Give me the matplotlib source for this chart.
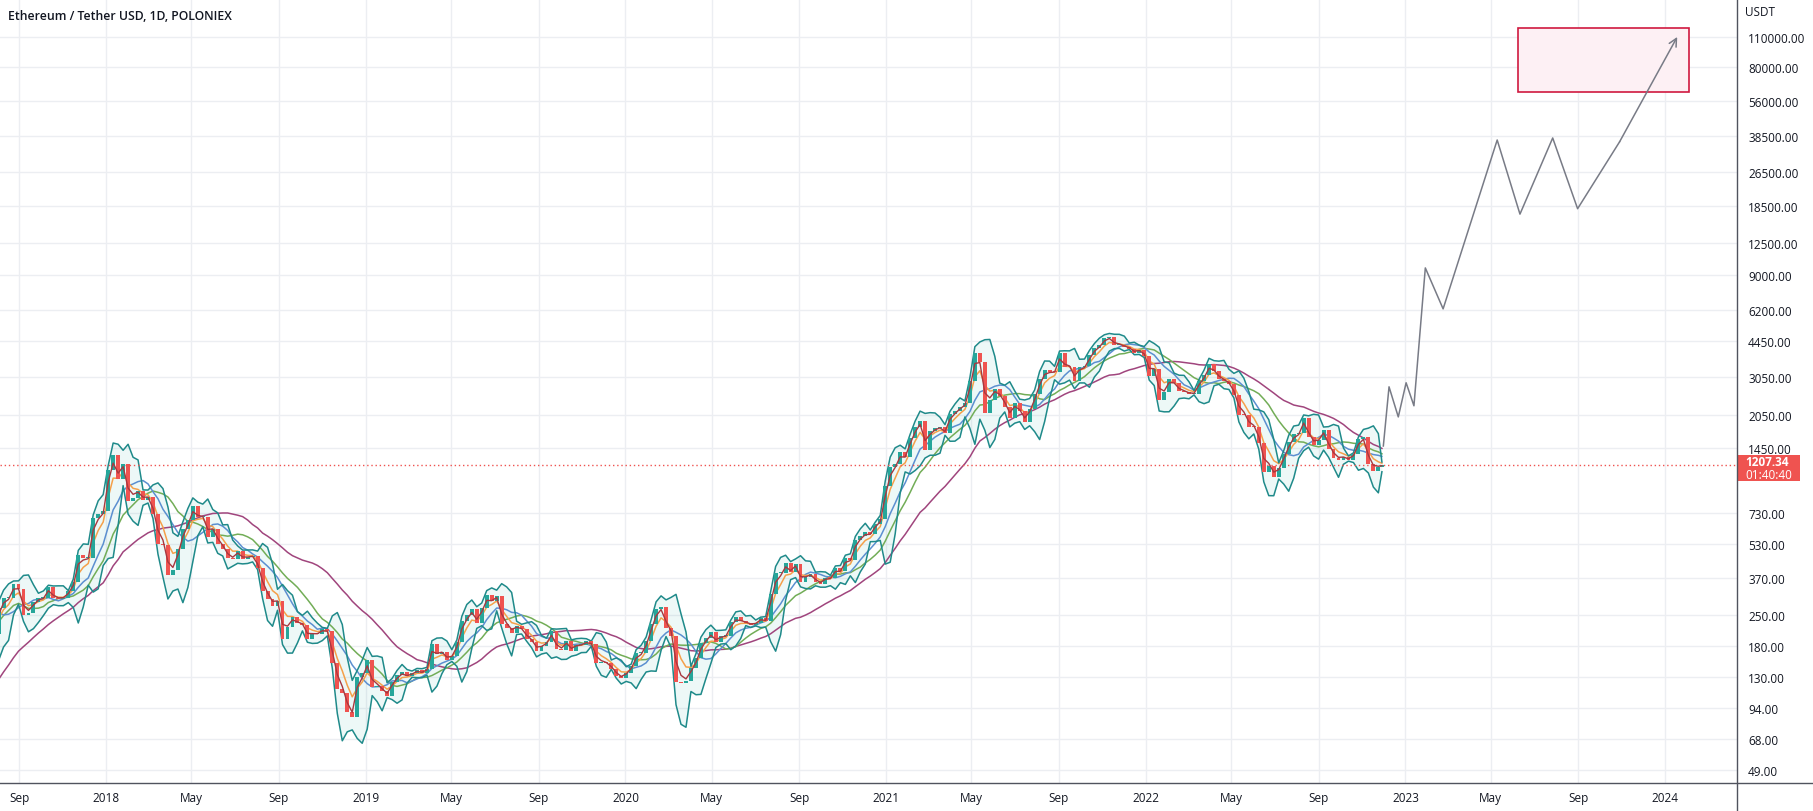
"""
Ethereum / Tether USD daily chart with moving averages, bands and a projected path.
"""

import matplotlib
matplotlib.use("Agg")
import matplotlib.pyplot as plt
import matplotlib.dates as mdates
from matplotlib.patches import Rectangle
import numpy as np
import pandas as pd

#### Data
# weekly closes (USDT); each list starts on the Monday in week_starts
week_starts = ["2017-01-02", "2018-01-01", "2018-12-31", "2019-12-30", "2020-12-28", "2022-01-03"]
close_2017 = [10.0, 9.9, 10.6, 10.6, 11.2, 11.4, 12.8, 13.2, 19.3, 19.4, 33, 42, 50.5,
              44, 48, 48.5, 78, 88, 89, 123, 162, 250, 340, 355, 285, 290, 240, 180, 230,
              205, 270, 300, 300, 345, 330, 250, 255, 285, 300, 300, 335, 300, 295, 300,
              320, 355, 470, 455, 455, 690, 720, 750]
close_2018 = [1150, 1350, 1050, 1230, 830, 860, 920, 840, 865, 720, 530, 520, 380, 400,
              500, 620, 680, 790, 700, 700, 570, 620, 530, 500, 455, 450, 490, 450, 460,
              465, 410, 320, 295, 275, 290, 195, 220, 245, 230, 225, 195, 205, 205, 215,
              210, 150, 115, 110, 90, 85, 130, 135]
close_2019 = [155, 117, 118, 112, 107, 124, 133, 137, 131, 135, 140, 136, 142, 185, 165,
              170, 156, 162, 187, 234, 250, 265, 230, 268, 308, 290, 305, 228, 218, 207,
              222, 215, 195, 188, 171, 180, 188, 210, 174, 173, 190, 171, 183, 183, 189,
              184, 150, 151, 150, 142, 132, 128]
close_2020 = [136, 146, 167, 168, 189, 228, 265, 273, 218, 200, 124, 122, 125, 143, 158,
              186, 197, 208, 188, 200, 201, 231, 245, 235, 230, 225, 229, 242, 235, 310,
              387, 390, 433, 391, 428, 352, 373, 384, 355, 346, 370, 368, 409, 396, 454,
              447, 548, 575, 596, 585, 654, 685]
close_2021 = [975, 1190, 1230, 1390, 1315, 1615, 1810, 1935, 1420, 1725, 1795, 1810, 1690,
              2080, 2140, 2240, 2320, 2945, 3930, 3580, 2100, 2390, 2710, 2510, 2240, 1980,
              2320, 2130, 1900, 2190, 2560, 3010, 3310, 3240, 3230, 3940, 3410, 3400, 2930,
              3390, 3420, 3850, 4170, 4290, 4610, 4650, 4300, 4300, 4200, 4130, 3930, 4060,
              3830]
close_2022 = [3080, 3330, 2410, 2600, 3010, 2870, 2630, 2620, 2560, 2570, 2940, 3130, 3520,
              3260, 2990, 2930, 2830, 2520, 2060, 2050, 1810, 1800, 1530, 1130, 1200, 1070,
              1170, 1360, 1550, 1680, 1700, 1990, 1620, 1490, 1580, 1760, 1430, 1310, 1280,
              1320, 1280, 1360, 1590, 1630, 1220, 1140, 1190, 1207.34]
last_price = 1207.34

# hand-drawn projection (date, price) and target box
path_dates = ["2022-12-01", "2022-12-09", "2022-12-22", "2023-01-02", "2023-01-13",
              "2023-01-29", "2023-02-23", "2023-05-10", "2023-06-11", "2023-07-27",
              "2023-08-31", "2023-10-29", "2024-01-18"]
path_prices = [1480, 2760, 2010, 2880, 2260, 9650, 6270, 37100, 17000, 37900, 18000,
               36400, 109800]
box_dates = ["2023-06-08", "2024-02-03"]
box_prices = [61600, 120700]

price_ticks = [49, 68, 94, 130, 180, 250, 370, 530, 730, 1450, 2050, 3050, 4450, 6200,
               9000, 12500, 18500, 26500, 38500, 56000, 80000, 110000]
date_ticks = ["2017-09-01", "2018-01-01", "2018-05-01", "2018-09-01", "2019-01-01",
              "2019-05-01", "2019-09-01", "2020-01-01", "2020-05-01", "2020-09-01",
              "2021-01-01", "2021-05-01", "2021-09-01", "2022-01-01", "2022-05-01",
              "2022-09-01", "2023-01-01", "2023-05-01", "2023-09-01", "2024-01-01"]

TEXT = "#131722"
W, H = 1813, 812
PLOT_R, PLOT_B = 1737, 784


def build_close():
    parts = []
    for start, vals in zip(week_starts, [close_2017, close_2018, close_2019,
                                         close_2020, close_2021, close_2022]):
        idx = pd.date_range(start, periods=len(vals), freq="7D")
        parts.append(pd.Series(vals, index=idx, dtype=float))
    return pd.concat(parts)


def main():
    plt.rcParams['font.family'] = ['Open Sans', 'DejaVu Sans']
    close = build_close()
    x = mdates.date2num(close.index) + 3.0
    x[-1] = mdates.date2num(close.index[-1]) + 1.0
    opens = close.shift(1).fillna(close.iloc[0]).values
    closes = close.values

    fig = plt.figure(figsize=(W / 100, H / 100), dpi=100)
    ax = fig.add_axes([0, (H - PLOT_B) / H, PLOT_R / W, PLOT_B / H])
    ax.set_yscale('log')

    # bands
    bb_mid = close.rolling(4).mean()
    bb_std = close.rolling(4).std(ddof=0)
    upper = (bb_mid + 2 * bb_std).values
    lower = (bb_mid - 2 * bb_std).values
    ax.fill_between(x, lower, upper, color='#26a69a', alpha=0.08, lw=0, zorder=1)
    ax.plot(x, upper, color='#1f8a8a', lw=1.1, zorder=3)
    ax.plot(x, lower, color='#1f8a8a', lw=1.1, zorder=3)

    # candles
    up = closes >= opens
    bottoms = np.minimum(opens, closes)
    heights = np.maximum(np.abs(closes - opens), bottoms * 0.01)
    ax.bar(x[up], heights[up], bottom=bottoms[up], width=5.5, color='#26a69a', lw=0, zorder=4)
    ax.bar(x[~up], heights[~up], bottom=bottoms[~up], width=5.5, color='#ef5350', lw=0, zorder=4)

    # moving averages
    ax.plot(x, close.rolling(28).mean(), color='#a0457d', lw=1.1, zorder=2)
    ax.plot(x, close.rolling(13).mean(), color='#72ad57', lw=1.1, zorder=2)
    ax.plot(x, close.rolling(8).mean(), color='#5b8fd0', lw=1.1, zorder=2)
    ax.plot(x, close.ewm(span=4, adjust=False).mean(), color='#f5a04a', lw=1.1, zorder=2)
    ax.plot(x, close.ewm(span=2, adjust=False).mean(), color='#a8383f', lw=1.0, zorder=5)

    # projection
    px = mdates.date2num(pd.to_datetime(path_dates))
    ax.plot(px[:-1], path_prices[:-1], color='#787b86', lw=1.1, zorder=6)
    ax.annotate('', xy=(px[-1], path_prices[-1]), xytext=(px[-2], path_prices[-2]),
                arrowprops=dict(arrowstyle='->', color='#787b86', lw=1.1,
                                shrinkA=0, shrinkB=0, mutation_scale=14), zorder=6)
    bx = mdates.date2num(pd.to_datetime(box_dates))
    ax.add_patch(Rectangle((bx[0], box_prices[0]), bx[1] - bx[0], box_prices[1] - box_prices[0],
                           facecolor='#fdf0f4', edgecolor='#d0193f', lw=1.2, zorder=2))

    ax.axhline(last_price, color='#ef5350', lw=1, ls=(0, (1, 2)), zorder=3)

    # axes
    ax.set_xlim(mdates.date2num(pd.Timestamp("2017-08-05")),
                mdates.date2num(pd.Timestamp("2024-04-11")))
    ax.set_ylim(42.6, 163700)
    ax.yaxis.tick_right()
    ax.set_yticks(price_ticks)
    ax.set_yticklabels([f"{p:.2f}" for p in price_ticks])
    ax.yaxis.set_minor_locator(matplotlib.ticker.NullLocator())
    dt = pd.to_datetime(date_ticks)
    ax.set_xticks(mdates.date2num(dt))
    ax.set_xticklabels([str(d.year) if d.month == 1 else d.strftime('%b') for d in dt])
    ax.tick_params(length=0, labelsize=8.5, colors=TEXT)
    ax.tick_params(axis='y', pad=8)
    ax.tick_params(axis='x', pad=6)
    ax.grid(True, color='#eceef2', lw=1, zorder=0)
    ax.set_axisbelow(True)
    for s in ax.spines.values():
        s.set_visible(False)

    # frame lines of the axis panels
    fig.add_artist(plt.Line2D([PLOT_R / W, PLOT_R / W], [0, 1], color='#50535e', lw=1))
    fig.add_artist(plt.Line2D([0, 1], [(H - PLOT_B) / H] * 2, color='#50535e', lw=1))

    fig.text(8 / W, 1 - 16 / H, "Ethereum / Tether USD, 1D, POLONIEX", fontsize=8.8,
             fontweight='semibold', color=TEXT, va='center', ha='left')
    fig.text(1745 / W, 1 - 13 / H, "USDT", fontsize=8.5, color=TEXT, va='center', ha='left')

    fig.add_artist(Rectangle((PLOT_R / W, 1 - 482 / H), 63 / W, 26 / H,
                             transform=fig.transFigure, color='#ef5350', lw=0))
    fig.text(1745 / W, 1 - 463 / H, f"{last_price:.2f}", fontsize=8.5, fontweight='bold',
             color='white', va='center', ha='left')
    fig.text(1745 / W, 1 - 475.5 / H, "01:40:40", fontsize=8.5, color='white',
             va='center', ha='left')

    fig.savefig('out.png', dpi=100, facecolor='white')


main()
